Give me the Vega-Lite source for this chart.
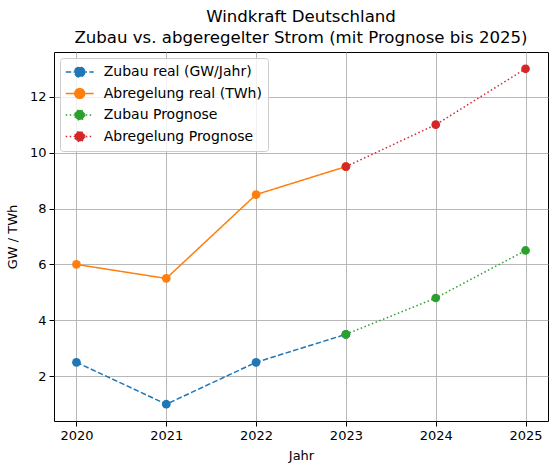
{
  "$schema": "https://vega.github.io/schema/vega-lite/v6.json",
  "width": 494,
  "height": 369,
  "autosize": {"type": "none"},
  "padding": {"left": 54, "top": 52, "right": 4, "bottom": 47},
  "title": {
    "text": ["Windkraft Deutschland", "Zubau vs. abgeregelter Strom (mit Prognose bis 2025)"],
    "anchor": "middle",
    "frame": "group",
    "font": "DejaVu Sans",
    "fontSize": 16.6,
    "fontWeight": "normal",
    "color": "black",
    "lineHeight": 21,
    "offset": 5
  },
  "data": {
    "values": [
      {"serie": "Zubau real (GW/Jahr)", "jahr": 2020, "wert": 2.5},
      {"serie": "Zubau real (GW/Jahr)", "jahr": 2021, "wert": 1.0},
      {"serie": "Zubau real (GW/Jahr)", "jahr": 2022, "wert": 2.5},
      {"serie": "Zubau real (GW/Jahr)", "jahr": 2023, "wert": 3.5},
      {"serie": "Abregelung real (TWh)", "jahr": 2020, "wert": 6.0},
      {"serie": "Abregelung real (TWh)", "jahr": 2021, "wert": 5.5},
      {"serie": "Abregelung real (TWh)", "jahr": 2022, "wert": 8.5},
      {"serie": "Abregelung real (TWh)", "jahr": 2023, "wert": 9.5},
      {"serie": "Zubau Prognose", "jahr": 2023, "wert": 3.5},
      {"serie": "Zubau Prognose", "jahr": 2024, "wert": 4.8},
      {"serie": "Zubau Prognose", "jahr": 2025, "wert": 6.5},
      {"serie": "Abregelung Prognose", "jahr": 2023, "wert": 9.5},
      {"serie": "Abregelung Prognose", "jahr": 2024, "wert": 11.0},
      {"serie": "Abregelung Prognose", "jahr": 2025, "wert": 13.0}
    ]
  },
  "encoding": {
    "x": {
      "field": "jahr",
      "type": "quantitative",
      "title": "Jahr",
      "scale": {"domain": [2019.75, 2025.25], "nice": false, "zero": false},
      "axis": {"values": [2020, 2021, 2022, 2023, 2024, 2025], "format": "d"}
    },
    "y": {
      "field": "wert",
      "type": "quantitative",
      "title": "GW / TWh",
      "scale": {"domain": [0.4, 13.6], "nice": false, "zero": false},
      "axis": {"values": [2, 4, 6, 8, 10, 12]}
    },
    "color": {
      "field": "serie",
      "type": "nominal",
      "scale": {
        "domain": ["Zubau real (GW/Jahr)", "Abregelung real (TWh)", "Zubau Prognose", "Abregelung Prognose"],
        "range": ["#1f77b4", "#ff7f0e", "#2ca02c", "#d62728"]
      }
    }
  },
  "layer": [
    {
      "mark": {"type": "line", "strokeWidth": 1.5},
      "encoding": {
        "strokeDash": {
          "field": "serie",
          "type": "nominal",
          "scale": {
            "domain": ["Zubau real (GW/Jahr)", "Abregelung real (TWh)", "Zubau Prognose", "Abregelung Prognose"],
            "range": [[5.5, 2.4], [1, 0], [1.5, 2.5], [1.5, 2.5]]
          }
        }
      }
    },
    {
      "mark": {"type": "point", "filled": true, "size": 76, "opacity": 1}
    }
  ],
  "config": {
    "font": "DejaVu Sans",
    "view": {"stroke": "black", "strokeWidth": 1},
    "axis": {
      "domain": false,
      "grid": true,
      "gridColor": "#b0b0b0",
      "gridWidth": 0.9,
      "tickColor": "black",
      "tickSize": 5,
      "tickWidth": 1,
      "labelFont": "DejaVu Sans",
      "labelFontSize": 13,
      "labelColor": "black",
      "labelPadding": 3,
      "titleFont": "DejaVu Sans",
      "titleFontSize": 13,
      "titleFontWeight": "normal",
      "titleColor": "black"
    },
    "axisX": {"titlePadding": 7},
    "axisY": {"titlePadding": 10},
    "legend": {
      "title": null,
      "orient": "none",
      "legendX": 6,
      "legendY": 6,
      "padding": 6,
      "fillColor": "rgba(255,255,255,0.8)",
      "strokeColor": "#cccccc",
      "cornerRadius": 3,
      "labelFont": "DejaVu Sans",
      "labelFontSize": 14,
      "labelColor": "black",
      "labelOffset": 16,
      "symbolOffset": 5.7,
      "rowPadding": 5.5,
      "symbolType": "M-2,0H2M0.7,0A0.7,0.7,0,1,1,-0.7,0A0.7,0.7,0,1,1,0.7,0Z",
      "symbolSize": 196,
      "symbolStrokeWidth": 1.5,
      "symbolOpacity": 1
    }
  }
}
